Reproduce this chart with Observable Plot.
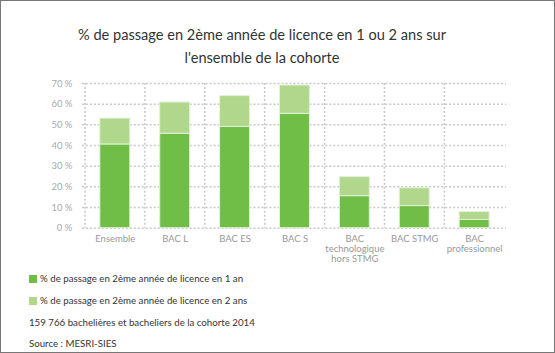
<!DOCTYPE html>
<html>
<head>
<meta charset="utf-8">
<script src="https://cdn.jsdelivr.net/npm/d3@7"></script>
<script src="https://cdn.jsdelivr.net/npm/@observablehq/plot@0.6"></script>
<style>
  html, body { margin: 0; padding: 0; background: #fff; }
  #frame { position: relative; width: 555px; height: 353px; box-sizing: border-box; border: 1px solid #777; font-family: Lato, "Open Sans", sans-serif; overflow: hidden; }
  #title { position: absolute; left: 0; top: 22px; width: 522px; text-align: center; font-size: 14.6px; line-height: 23px; color: #333; }
  #chart { position: absolute; left: -1px; top: 69px; }
  .leg { position: absolute; left: 28px; font-size: 9.7px; color: #333; line-height: 14px; white-space: nowrap; }
  .sw { display: inline-block; width: 8px; height: 8px; margin-right: 3px; vertical-align: -1px; }
</style>
</head>
<body>
<div id="frame">
  <div id="title">% de passage en 2ème année de licence en 1 ou 2 ans sur<br>l'ensemble de la cohorte</div>
  <div id="chart"></div>
  <div class="leg" style="top:270px"><span class="sw" style="background:#70bd47"></span>% de passage en 2ème année de licence en 1 an</div>
  <div class="leg" style="top:292px"><span class="sw" style="background:#b1d78d"></span>% de passage en 2ème année de licence en 2 ans</div>
  <div class="leg" style="top:314px">159 766 bachelières et bacheliers de la cohorte 2014</div>
  <div class="leg" style="top:335px">Source : MESRI-SIES</div>
</div>
<script>
const categories = ["Ensemble", "BAC L", "BAC ES", "BAC S", "BAC technologique hors STMG", "BAC STMG", "BAC professionnel"];
const tickLabels = ["Ensemble", "BAC L", "BAC ES", "BAC S", "BAC\ntechnologique\nhors STMG", "BAC STMG", "BAC\nprofessionnel"];
const series = ["% de passage en 2ème année de licence en 1 an", "% de passage en 2ème année de licence en 2 ans"];
const en1an = [40.5, 45.7, 49.0, 55.3, 15.5, 10.7, 4.0];
const en2ans = [12.5, 15.1, 14.9, 13.7, 9.2, 8.6, 3.8];
const yTicks = [0, 10, 20, 30, 40, 50, 60, 70];
const colors = ["#70bd47", "#b1d78d"];

const rows = [];
categories.forEach((c, i) => {
  rows.push({cat: c, serie: series[0], value: en1an[i]});
  rows.push({cat: c, serie: series[1], value: en2ans[i]});
});

const W = 555, ML = 82, MR = 48;
const step = (W - ML - MR) / categories.length;

const plot = Plot.plot({
  width: W,
  height: 200,
  marginTop: 13,
  marginBottom: 42,
  marginLeft: ML,
  marginRight: MR,
  style: {fontFamily: "Lato, sans-serif", background: "transparent"},
  x: {domain: categories, paddingInner: 0.5, paddingOuter: 0.25, label: null},
  y: {domain: [0, 70], label: null},
  color: {domain: series, range: colors},
  marks: [
    Plot.ruleY(yTicks, {stroke: "#c8c8c8", strokeWidth: 1.5, strokeDasharray: "2,2"}),
    Plot.ruleX(categories, {x: d => d, dx: -step / 2, stroke: "#c8c8c8", strokeWidth: 1.5, strokeDasharray: "2,2"}),
    Plot.barY(rows, Plot.stackY({x: "cat", y: "value", fill: "serie", order: series, stroke: "#e2f1d8", strokeWidth: 1})),
    Plot.axisX({tickSize: 0, tickPadding: 7, fontSize: 9.5, fill: "#999", lineHeight: 1.06,
      tickFormat: d => tickLabels[categories.indexOf(d)]}),
    Plot.axisY({ticks: yTicks, tickSize: 0, tickPadding: 10, fontSize: 9.5, fill: "#aaa",
      tickFormat: d => d + " %"})
  ]
});
document.getElementById("chart").appendChild(plot);
</script>
</body>
</html>
